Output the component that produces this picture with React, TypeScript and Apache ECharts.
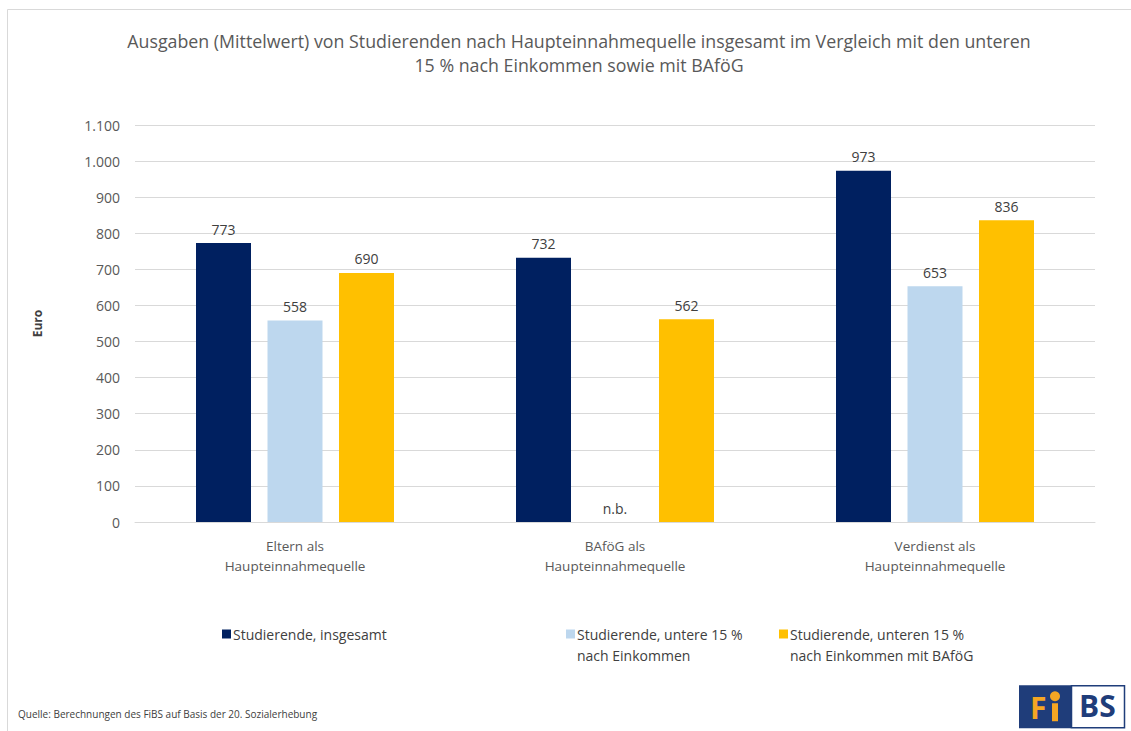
import React, { useEffect, useRef } from "react";
import * as echarts from "echarts";

const titleLines = [
  "Ausgaben (Mittelwert) von Studierenden nach Haupteinnahmequelle insgesamt im Vergleich mit den unteren",
  "15 % nach Einkommen sowie mit BAföG",
];
const categories = ["Eltern als\nHaupteinnahmequelle", "BAföG als\nHaupteinnahmequelle", "Verdienst als\nHaupteinnahmequelle"];
const seriesNames = [
  "Studierende, insgesamt",
  "Studierende, untere 15 %\nnach Einkommen",
  "Studierende, unteren 15 %\nnach Einkommen mit BAföG",
];
const insgesamt = [773, 732, 973];
const untere15: (number | null)[] = [558, null, 653];
const untere15Bafoeg = [690, 562, 836];
const colors = ["#002060", "#BDD7EE", "#FFC000"];
const yTicks = { min: 0, max: 1100, interval: 100 };
const sourceText = "Quelle: Berechnungen des FiBS auf Basis der 20. Sozialerhebung";
const FONT = "'Open Sans', sans-serif";

const fmt = (v: number) => v.toLocaleString("de-DE");

export default function App() {
  const ref = useRef<HTMLDivElement>(null);
  useEffect(() => {
    if (!ref.current) return;
    const chart = echarts.init(ref.current, null, { renderer: "svg" });
    const labelBase = {
      show: true,
      position: "top" as const,
      distance: 7,
      color: "#404040",
      fontSize: 14,
      fontFamily: FONT,
      formatter: (p: any) => (p.value == null || p.value === 0 ? "n.b." : fmt(p.value)),
    };
    const mkSeries = (name: string, data: (number | null)[], color: string) => ({
      name,
      type: "bar",
      barWidth: 55,
      barGap: "30%",
      itemStyle: { color },
      label: labelBase,
      data: data.map((v) => (v == null ? { value: 0, label: { show: true, formatter: "n.b." } } : v)),
    });
    const legendTextX = [233, 577, 790];
    const legendGraphics: any[] = [];
    seriesNames.forEach((n, i) => {
      legendGraphics.push({
        type: "rect",
        shape: { x: legendTextX[i] - 11, y: 629.5, width: 9, height: 9 },
        style: { fill: colors[i] },
      });
      legendGraphics.push({
        type: "text",
        x: legendTextX[i],
        y: 623.5,
        style: { text: n, fontSize: 14, lineHeight: 21, fill: "#404040", fontFamily: FONT, textVerticalAlign: "top" },
      });
    });
    chart.setOption({
      animation: false,
      color: colors,
      textStyle: { fontFamily: FONT },
      title: {
        text: titleLines.join("\n"),
        left: 574,
        textAlign: "center",
        top: 24,
        textStyle: { fontSize: 17.8, fontWeight: "normal", color: "#595959", lineHeight: 24, fontFamily: FONT },
      },
      grid: { left: 135, right: 36, top: 125, bottom: 209, containLabel: false },
      xAxis: {
        type: "category",
        data: categories,
        axisLine: { show: true, lineStyle: { color: "#d9d9d9" } },
        axisTick: { show: false },
        axisLabel: { color: "#595959", fontSize: 13.5, lineHeight: 20, margin: 14, fontFamily: FONT },
      },
      yAxis: {
        type: "value",
        ...yTicks,
        name: "Euro",
        nameLocation: "middle",
        nameGap: 92,
        nameTextStyle: { color: "#404040", fontSize: 12, fontWeight: "bold", fontFamily: FONT },
        axisLine: { show: false },
        axisTick: { show: false },
        splitLine: { lineStyle: { color: "#d9d9d9" } },
        axisLabel: { color: "#595959", fontSize: 14, margin: 15, formatter: (v: number) => fmt(v), fontFamily: FONT },
      },
      series: [
        mkSeries(seriesNames[0], insgesamt, colors[0]),
        mkSeries(seriesNames[1], untere15, colors[1]),
        mkSeries(seriesNames[2], untere15Bafoeg, colors[2]),
      ],
      graphic: [
        { type: "line", shape: { x1: 7.5, y1: 9.5, x2: 1131, y2: 9.5 }, style: { stroke: "#d9d9d9", lineWidth: 1 } },
        { type: "line", shape: { x1: 7.5, y1: 9.5, x2: 7.5, y2: 731 }, style: { stroke: "#d9d9d9", lineWidth: 1 } },
        ...legendGraphics,
        {
          type: "text",
          left: 18,
          top: 709,
          style: { text: sourceText, fontSize: 10, fill: "#404040", fontFamily: FONT },
        },
        {
          type: "group",
          left: 1019,
          top: 685,
          children: [
            { type: "rect", shape: { x: 0, y: 0, width: 52, height: 43 }, style: { fill: "#1f3d7a" } },
            { type: "rect", shape: { x: 52.5, y: 0.5, width: 53, height: 42 }, style: { fill: "#ffffff", stroke: "#1f3d7a", lineWidth: 1.5 } },
            { type: "text", x: 11, y: 7, style: { text: "F", fontSize: 30, fontWeight: "bold", fill: "#f5a623", fontFamily: FONT } },
            { type: "rect", shape: { x: 33, y: 18, width: 6, height: 18 }, style: { fill: "#f5a623" } },
            { type: "circle", shape: { cx: 36, cy: 11, r: 5 }, style: { fill: "#f5a623" } },
            { type: "text", x: 60, y: 5, style: { text: "BS", fontSize: 30, fontWeight: "bold", fill: "#1f3d7a", fontFamily: FONT } },
          ],
        },
      ],
    });
    return () => chart.dispose();
  }, []);
  return <div ref={ref} style={{ position: "fixed", left: 0, top: 0, width: 1131, height: 731, background: "#fff" }} />;
}
